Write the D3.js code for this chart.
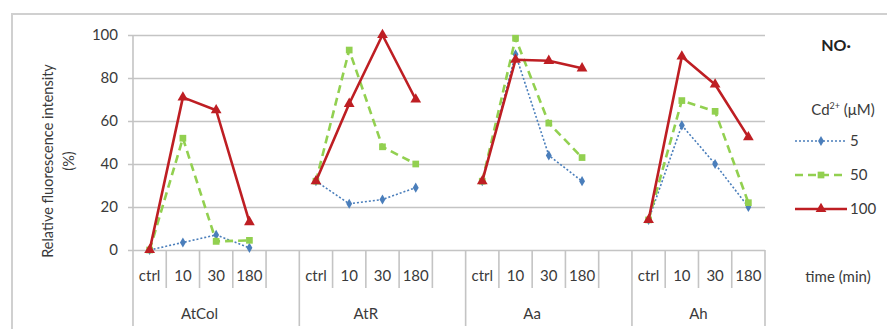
<!DOCTYPE html>
<html><head><meta charset="utf-8">
<script src="https://cdn.jsdelivr.net/npm/d3@7"></script>
<style>
html,body{margin:0;padding:0;background:#fff;}
svg{display:block;font-family:Lato,"Open Sans",sans-serif;}
</style></head>
<body><svg id="c" width="887" height="329"></svg>
<script>
const groups = ["AtCol", "AtR", "Aa", "Ah"];
const times = ["ctrl", "10", "30", "180"];
const yTicks = [0, 20, 40, 60, 80, 100];
const seriesNames = ["5", "50", "100"];
const values5 = [[0, 3.5, 7, 1], [32, 21.5, 23.5, 29], [32, 91, 44, 32], [14, 58, 40, 20]];
const values50 = [[0, 52, 4, 4.5], [32, 93, 48, 40], [32, 98.5, 59, 43], [14, 69.5, 64.5, 22]];
const values100 = [[0, 71, 65, 13], [32, 68, 100, 70], [32, 88.5, 88, 84.5], [14, 90, 77, 52.5]];

const svg = d3.select("#c");
const pLeft = 133, pRight = 765, pTop = 35, pBottom = 250;
const textCol = "#3a3a3a", gridCol = "#c4c4c4";

// outer frame
svg.append("rect").attr("x", 12).attr("y", 14).attr("width", 900).attr("height", 400)
  .attr("fill", "none").attr("stroke", "#d0d0d0").attr("stroke-width", 2);

// category slots
const slots = [];
groups.forEach((g, gi) => {
  times.forEach(t => slots.push(g + "|" + t));
  if (gi < groups.length - 1) slots.push(g + "|_");
});
const x = d3.scaleBand().domain(slots).range([pLeft, pRight]).paddingInner(0).paddingOuter(0);
const y = d3.scaleLinear().domain([0, 100]).range([pBottom, pTop]);

// gridlines + y axis
const yAxis = d3.axisLeft(y).tickValues(yTicks).tickSize(5).tickPadding(10).tickSizeOuter(0);
const ya = svg.append("g").attr("transform", `translate(${pLeft},0)`).call(yAxis);
ya.select(".domain").remove();
ya.selectAll(".tick line").attr("stroke", gridCol).attr("stroke-width", 1.6).attr("x1", -5).attr("x2", pRight - pLeft);
ya.selectAll(".tick text").attr("fill", textCol).style("font-size", "15px").style("font-family", "Lato, sans-serif").attr("x", -15);

// vertical axis line
svg.append("line").attr("x1", pLeft).attr("x2", pLeft).attr("y1", pTop).attr("y2", 326)
  .attr("stroke", gridCol).attr("stroke-width", 1.6);

// category separators
slots.forEach((s, i) => {
  const xr = x(s) + x.bandwidth();
  const isGroupEnd = (i === slots.length - 1) || s.endsWith("|_");
  svg.append("line").attr("x1", xr).attr("x2", xr).attr("y1", pBottom).attr("y2", isGroupEnd ? 326 : 288)
    .attr("stroke", gridCol).attr("stroke-width", 1.6);
});

// tick labels
slots.forEach(s => {
  const t = s.split("|")[1];
  if (t === "_") return;
  svg.append("text").attr("x", x(s) + x.bandwidth() / 2).attr("y", 281).attr("text-anchor", "middle")
    .attr("fill", textCol).style("font-size", "15px").text(t);
});
groups.forEach(g => {
  const x0 = x(g + "|ctrl"), x1 = x(g + "|180") + x.bandwidth();
  svg.append("text").attr("x", (x0 + x1) / 2).attr("y", 319).attr("text-anchor", "middle")
    .attr("fill", textCol).style("font-size", "15px").text(g);
});

// y title
const yt = svg.append("text").attr("transform", "translate(53,161) rotate(-90)").attr("text-anchor", "middle")
  .attr("fill", textCol).style("font-size", "14.5px");
yt.append("tspan").attr("x", 0).attr("dy", 0).text("Relative fluorescence intensity");
yt.append("tspan").attr("x", 0).attr("dy", 21).text("(%)");

// series
const series = [
  {name: seriesNames[0], vals: values5, color: "#4a7ebb", width: 1.6, dash: "2,2", marker: "diamond"},
  {name: seriesNames[1], vals: values50, color: "#92d050", width: 2.6, dash: "8,5", marker: "square"},
  {name: seriesNames[2], vals: values100, color: "#be1e23", width: 2.6, dash: null, marker: "triangle"}
];
const sym = {diamond: d3.symbolDiamond, square: d3.symbolSquare, triangle: d3.symbolTriangle};
const symSize = {diamond: 30, square: 45, triangle: 50};
const line = d3.line().x(d => d[0]).y(d => d[1]);

series.forEach(se => {
  const g = svg.append("g");
  groups.forEach((gr, gi) => {
    const pts = times.map((t, ti) => [x(gr + "|" + t) + x.bandwidth() / 2, y(se.vals[gi][ti])]);
    g.append("path").attr("d", line(pts)).attr("fill", "none").attr("stroke", se.color)
      .attr("stroke-width", se.width).attr("stroke-dasharray", se.dash).attr("stroke-linejoin", "round");
    pts.forEach(p => {
      g.append("path").attr("d", d3.symbol(sym[se.marker], symSize[se.marker])())
        .attr("transform", `translate(${p[0]},${p[1]})`).attr("fill", se.color);
    });
  });
});

// legend
svg.append("text").attr("x", 836).attr("y", 51).attr("text-anchor", "middle").attr("fill", "#222")
  .style("font-size", "16px").style("font-weight", "bold").text("NO·");
const cd = svg.append("text").attr("x", 843).attr("y", 115).attr("text-anchor", "middle").attr("fill", textCol)
  .style("font-size", "15px");
cd.append("tspan").text("Cd");
cd.append("tspan").attr("dy", -6).style("font-size", "9px").text("2+");
cd.append("tspan").attr("dy", 6).text(" (μM)");
const legY = [141, 175, 209];
series.forEach((se, i) => {
  const ly = legY[i];
  svg.append("line").attr("x1", 795).attr("x2", 847).attr("y1", ly).attr("y2", ly)
    .attr("stroke", se.color).attr("stroke-width", se.width).attr("stroke-dasharray", se.dash);
  svg.append("path").attr("d", d3.symbol(sym[se.marker], symSize[se.marker])())
    .attr("transform", `translate(821,${ly})`).attr("fill", se.color);
  svg.append("text").attr("x", 850).attr("y", ly + 5).attr("fill", textCol).style("font-size", "15px").text(se.name);
});
svg.append("text").attr("x", 838).attr("y", 282).attr("text-anchor", "middle").attr("fill", textCol)
  .style("font-size", "15px").text("time (min)");
</script></body></html>
